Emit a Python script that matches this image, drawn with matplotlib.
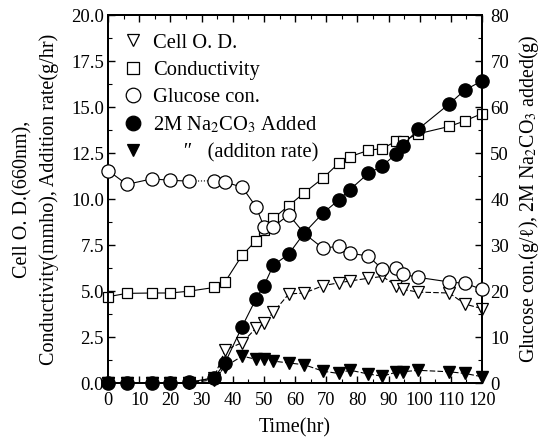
import matplotlib
matplotlib.use("Agg")
import matplotlib.pyplot as plt
from matplotlib.ticker import MultipleLocator

plt.rcParams["font.family"] = ["Liberation Serif", "DejaVu Serif"]
plt.rcParams["mathtext.fontset"] = "stix"

# sampling times (hr)
time_hr = [0, 6, 14, 20, 26, 34, 37.5, 43, 47.5, 50, 53, 58, 63, 69, 74,
           77.5, 83.5, 88, 92.5, 94.5, 99.5, 109.5, 114.5, 120]

# left axis series
conductivity = [4.7, 4.88, 4.9, 4.9, 5.0, 5.2, 5.5, 6.95, 7.75, 8.3, 8.95, 9.65,
                10.35, 11.15, 11.95, 12.3, 12.65, 12.75, 13.15, 13.15, 13.55,
                13.95, 14.25, 14.65]
cell_od = [0, 0, 0, 0, 0, 0.3, 1.8, 2.2, 3.0, 3.25, 3.85, 4.85, 4.9, 5.3, 5.45,
           5.55, 5.7, 5.8, 5.3, 5.1, 4.95, 4.9, 4.3, 4.05]
add_rate = [0, 0, 0, 0, 0, 0.2, 0.9, 1.47, 1.3, 1.3, 1.2, 1.1, 1.0, 0.65, 0.53,
            0.71, 0.5, 0.38, 0.6, 0.62, 0.7, 0.62, 0.53, 0.35]

# right axis series
glucose = [46.2, 43.2, 44.4, 44.1, 43.9, 44.0, 43.7, 42.6, 38.3, 34.0, 34.0,
           36.6, 32.5, 29.3, 29.8, 28.3, 27.6, 24.8, 25.0, 23.7, 23.0, 22.0,
           21.7, 20.4]
na2co3_added = [0, 0, 0, 0, 0.2, 1.2, 4.4, 12.3, 18.4, 21.2, 25.6, 28.1, 32.7,
                37.0, 39.8, 42.0, 45.6, 47.2, 49.9, 51.6, 55.2, 60.7, 63.7, 65.7]

fig = plt.figure(figsize=(5.49, 4.43), dpi=100)
ax = fig.add_axes([0.197, 0.135, 0.681, 0.831])
ax2 = ax.twinx()

lw = 0.8
h_od, = ax.plot(time_hr, cell_od, ls=(0, (5, 2)), lw=lw, color="black",
                marker="v", ms=8, mfc="white", mec="black", mew=0.9, zorder=3,
                clip_on=False)
h_cond, = ax.plot(time_hr, conductivity, ls="-", lw=lw, color="black",
                  marker="s", ms=7.5, mfc="white", mec="black", mew=0.9, zorder=4,
                  clip_on=False)
h_rate, = ax.plot(time_hr, add_rate, ls=(0, (5, 2)), lw=lw, color="black",
                  marker="v", ms=8, mfc="black", mec="black", zorder=3,
                  clip_on=False)

# glucose line dotted where samples are missing (26-34 hr)
ax2.plot(time_hr[4:6], glucose[4:6], ls=":", lw=lw, color="black")
ax2.plot(time_hr[:5], glucose[:5], ls="-", lw=lw, color="black")
ax2.plot(time_hr[5:], glucose[5:], ls="-", lw=lw, color="black")
h_glu, = ax2.plot(time_hr, glucose, ls="none", marker="o", ms=9.5,
                  mfc="white", mec="black", mew=0.9, zorder=3, clip_on=False)
h_na, = ax2.plot(time_hr, na2co3_added, ls="-", lw=lw, color="black",
                 marker="o", ms=9.5, mfc="black", mec="black", zorder=4,
                 clip_on=False)

ax.set_xlim(0, 120)
ax.set_ylim(0, 20)
ax2.set_ylim(0, 80)
ax.xaxis.set_major_locator(MultipleLocator(10))
ax.xaxis.set_minor_locator(MultipleLocator(5))
ax.yaxis.set_major_locator(MultipleLocator(2.5))
ax.yaxis.set_minor_locator(MultipleLocator(1.25))
ax2.yaxis.set_major_locator(MultipleLocator(10))
ax2.yaxis.set_minor_locator(MultipleLocator(5))
ax.yaxis.set_major_formatter(plt.FormatStrFormatter("%.1f"))

ax.tick_params(which="both", direction="in", top=True, right=False,
               labelsize=13.5, pad=3)
ax.tick_params(axis="x", pad=6, labelsize=13.2)
ax.tick_params(which="major", length=5, width=1)
ax.tick_params(which="minor", length=3, width=0.8)
ax2.tick_params(which="both", direction="in", labelsize=13.5, pad=6)
ax2.tick_params(which="major", length=5, width=1)
ax2.tick_params(which="minor", length=3, width=0.8)
for a in (ax, ax2):
    for s in a.spines.values():
        s.set_linewidth(1.4)

ax.set_xlabel("Time(hr)", fontsize=14.5, labelpad=7)
ax.set_ylabel("Cell O. D.(660nm),\nConductivity(mmho), Addition rate(g/hr)",
              fontsize=14.5, labelpad=9, linespacing=1.45)
ax2.set_ylabel("Glucose con.(g/\u2113), 2M Na$_2$CO$_3$ added(g)",
               fontsize=14.3, labelpad=6)

handles = [h_od, h_cond, h_glu, h_na, h_rate]
labels = ["Cell O. D.", "Conductivity", "Glucose con.",
          "2M Na$_2$CO$_3$ Added", "      \u2033   (additon rate)"]
leg_handles = []
for h in handles:
    lh, = ax.plot([], [], ls="none", marker=h.get_marker(), ms=h.get_markersize() + 1,
                  mfc=h.get_markerfacecolor(), mec="black", mew=0.9)
    leg_handles.append(lh)
ax2.legend(leg_handles, labels, loc="upper left", bbox_to_anchor=(0.0, 0.99),
           frameon=False, fontsize=14.8, handlelength=1.0, handletextpad=0.5,
           labelspacing=0.38, borderaxespad=0.3)

fig.savefig("out.png", dpi=100)
